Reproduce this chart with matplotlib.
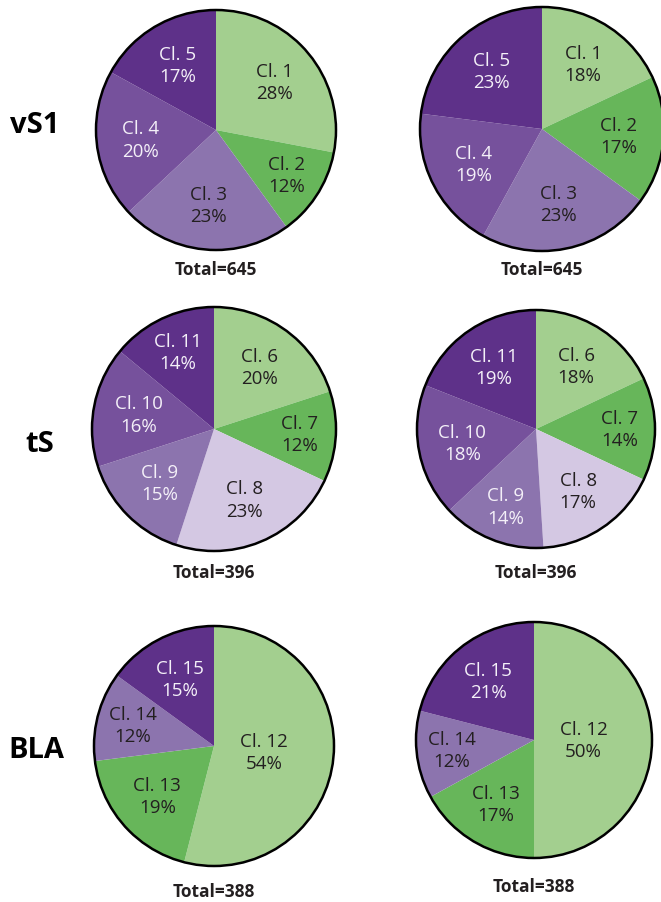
import matplotlib
matplotlib.use("Agg")
import matplotlib.pyplot as plt
from matplotlib.patches import Circle
import numpy as np

# ---- data -------------------------------------------------------------
regions = ["vS1", "tS", "BLA"]
totals = [645, 396, 388]

vs1_clusters = ["Cl. 1", "Cl. 2", "Cl. 3", "Cl. 4", "Cl. 5"]
vs1_left = [28, 12, 23, 20, 17]
vs1_right = [18, 17, 23, 19, 23]

ts_clusters = ["Cl. 6", "Cl. 7", "Cl. 8", "Cl. 9", "Cl. 10", "Cl. 11"]
ts_left = [20, 12, 23, 15, 16, 14]
ts_right = [18, 14, 17, 14, 18, 19]

bla_clusters = ["Cl. 12", "Cl. 13", "Cl. 14", "Cl. 15"]
bla_left = [54, 19, 12, 15]
bla_right = [50, 17, 12, 21]

# ---- styling ----------------------------------------------------------
LG = "#a3cf8f"   # light green
GR = "#67b65a"   # green
LAV = "#d4c8e3"  # lavender
LP = "#8c74ae"   # light purple
MP = "#76519c"   # mid purple
DP = "#5e3189"   # dark purple
DARK = "#231f20"
LIGHT = "#f4f0f8"

vs1_colors = [LG, GR, LP, MP, DP]
vs1_text = [DARK, DARK, DARK, LIGHT, LIGHT]
ts_colors = [LG, GR, LAV, LP, MP, DP]
ts_text = [DARK, DARK, DARK, LIGHT, LIGHT, LIGHT]
bla_colors = [LG, GR, LP, DP]
bla_text = [DARK, DARK, DARK, LIGHT]

W, H = 661, 903
fig = plt.figure(figsize=(W / 100, H / 100), dpi=100)
ax = fig.add_axes([0, 0, 1, 1])

FONT = "Open Sans"


def draw_pie(values, names, colors, tcolors, cx, cy, r, total, ty):
    yc = H - cy
    wedges, _ = ax.pie(values, colors=colors, startangle=90, counterclock=False,
                       center=(cx, yc), radius=r,
                       wedgeprops=dict(linewidth=0, antialiased=True))
    total_v = sum(values)
    for w, v, name, tc in zip(wedges, values, names, tcolors):
        frac = v / total_v
        mid = np.deg2rad((w.theta1 + w.theta2) / 2)
        if frac >= 0.4:
            d = 0.42
        elif frac <= 0.14:
            d = 0.70
        else:
            d = 0.63
        ax.text(cx + d * r * np.cos(mid), yc + d * r * np.sin(mid),
                f"{name}\n{v}%", ha="center", va="center", color=tc,
                fontsize=13.5, family=FONT, linespacing=1.3)
    ax.add_patch(Circle((cx, yc), r, fill=False, edgecolor="black", linewidth=1.8))
    ax.text(cx, H - ty, f"Total={total}", ha="center", va="center",
            fontsize=12.5, fontweight="bold", family=FONT, color=DARK)


draw_pie(vs1_left, vs1_clusters, vs1_colors, vs1_text, 216, 131, 120, totals[0], 270)
draw_pie(vs1_right, vs1_clusters, vs1_colors, vs1_text, 542, 130, 122, totals[0], 270)
draw_pie(ts_left, ts_clusters, ts_colors, ts_text, 214, 430, 122, totals[1], 573)
draw_pie(ts_right, ts_clusters, ts_colors, ts_text, 536, 430, 119, totals[1], 573)
draw_pie(bla_left, bla_clusters, bla_colors, bla_text, 214, 747, 120, totals[2], 892)
draw_pie(bla_right, bla_clusters, bla_colors, bla_text, 534, 741, 118, totals[2], 887)

for name, (x, y) in zip(regions, [(35, 125), (40, 444), (36, 751)]):
    ax.text(x, H - y, name, ha="center", va="center", fontsize=21,
            fontweight="bold", family=FONT, color="black")

ax.set_xlim(0, W)
ax.set_ylim(0, H)
ax.set_aspect("equal")
ax.axis("off")

fig.savefig("out.png", dpi=100, facecolor="white")
